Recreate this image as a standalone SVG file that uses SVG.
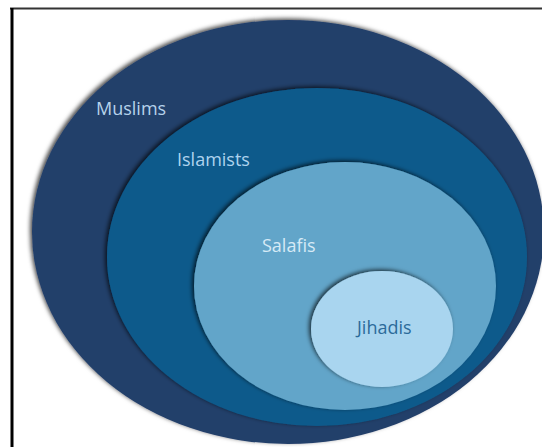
<svg xmlns="http://www.w3.org/2000/svg" width="542" height="447" viewBox="0 0 542 447">
<style>
.lbl{font-family:"Open Sans","Noto Sans",sans-serif;font-size:18px;}
</style>
<defs>
<filter id="sh" x="-10%" y="-10%" width="120%" height="120%">
<feDropShadow dx="-2" dy="-1.5" stdDeviation="2" flood-color="#000" flood-opacity="0.7"/>
</filter>
</defs>
<rect width="542" height="447" fill="#fff"/>
<line x1="10" y1="8.5" x2="542" y2="8.5" stroke="#333" stroke-width="2"/>
<line x1="12" y1="8" x2="12" y2="447" stroke="#000" stroke-width="3"/>
<g id="muslims">
<ellipse cx="288" cy="232" rx="256" ry="212" fill="#243f6a" filter="url(#sh)"/>
<text class="lbl" x="96" y="115" fill="#b6d2ea">Muslims</text>
</g>
<g id="islamists">
<ellipse cx="317" cy="257" rx="210" ry="169" fill="#0d5a8b" filter="url(#sh)"/>
<text class="lbl" x="177" y="166" fill="#aed3ee">Islamists</text>
</g>
<g id="salafis">
<ellipse cx="345" cy="286" rx="151" ry="124" fill="#62a5c9" filter="url(#sh)"/>
<text class="lbl" x="262" y="252" fill="#d6eaf6">Salafis</text>
</g>
<g id="jihadis">
<ellipse cx="382" cy="329" rx="71" ry="58" fill="#a9d5ef" filter="url(#sh)"/>
<text class="lbl" x="357" y="334" fill="#2c6b9a">Jihadis</text>
</g>
<g id="connectors"/>
</svg>
